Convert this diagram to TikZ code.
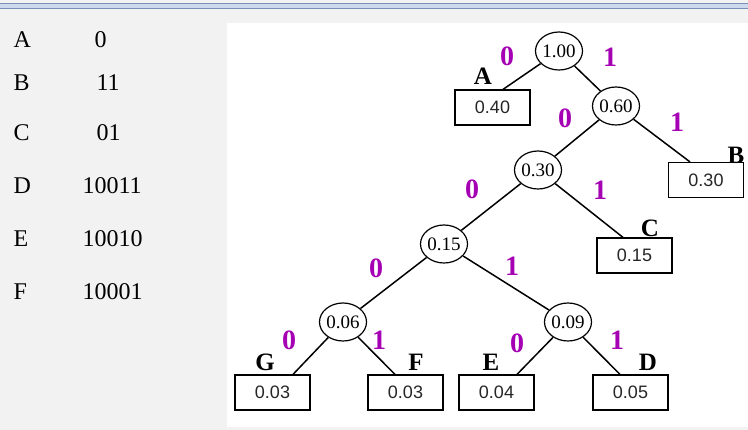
\documentclass[tikz,border=0pt]{standalone}
\usepackage{fontspec}
\setmainfont{Liberation Serif}
\newfontfamily\boxfont{Liberation Sans}
\usetikzlibrary{shapes.geometric}
\definecolor{bgray}{RGB}{242,242,242}
\definecolor{topblue}{RGB}{120,145,185}
\definecolor{topband}{RGB}{205,218,238}
\definecolor{bitpurple}{RGB}{165,0,180}
\tikzset{
  circnode/.style={draw, ellipse, line width=1.2pt, minimum width=46pt, minimum height=38pt, inner sep=0pt,
    font=\fontsize{19}{19}\selectfont},
  leafbox/.style={draw, rectangle, line width=1.2pt, minimum width=75pt, minimum height=35pt, inner sep=0pt,
    font=\boxfont\fontsize{18}{18}\selectfont, text=black!85},
  leaflabel/.style={font=\bfseries\fontsize{25}{25}\selectfont},
  bit/.style={font=\bfseries\fontsize{28}{28}\selectfont, text=bitpurple},
  tabtext/.style={font=\fontsize{24}{24}\selectfont, anchor=west},
  edge/.style={line width=1.5pt}
}
\begin{document}
\begin{tikzpicture}[x=1pt,y=-1pt]
\useasboundingbox (0,0) rectangle (748,430);
\fill[bgray] (0,0) rectangle (748,430);
\fill[topband] (0,3) rectangle (748,9);
\draw[topblue, line width=1.2pt] (0,3.5) -- (748,3.5);
\draw[topblue, line width=1.2pt] (0,8.5) -- (748,8.5);
\fill[white] (227,23) rectangle (748,427);

% table
\node[tabtext] (tA) at (10,40) {A};
\node[tabtext] (tB) at (10,83) {B};
\node[tabtext] (tC) at (10,133) {C};
\node[tabtext] (tD) at (10,186) {D};
\node[tabtext] (tE) at (10,239) {E};
\node[tabtext] (tF) at (10,292) {F};
\node[tabtext] (cA) at (91,40) {0};
\node[tabtext] (cB) at (93,83) {11};
\node[tabtext] (cC) at (93,133) {01};
\node[tabtext] (cD) at (79,186) {10011};
\node[tabtext] (cE) at (79,239) {10010};
\node[tabtext] (cF) at (79,292) {10001};

% internal nodes
\node[circnode] (n100) at (559,51) {1.00};
\node[circnode] (n060) at (616,106) {0.60};
\node[circnode] (n030) at (538,170) {0.30};
\node[circnode] (n015) at (444,244) {0.15};
\node[circnode] (n006) at (343,322) {0.06};
\node[circnode] (n009) at (568,322) {0.09};

% leaves
\node[leafbox] (bA) at (492.5,107.5) {0.40};
\node[leafbox] (bB) at (706,180) {0.30};
\node[leafbox] (bC) at (634.5,255.5) {0.15};
\node[leafbox] (bG) at (272.5,392.5) {0.03};
\node[leafbox] (bF) at (405.5,392.5) {0.03};
\node[leafbox] (bE) at (496.5,392.5) {0.04};
\node[leafbox] (bD) at (630.5,392.5) {0.05};

% leaf labels
\node[leaflabel] (lA) at (483,76) {A};
\node[leaflabel] (lB) at (736,155) {B};
\node[leaflabel] (lC) at (650,228) {C};
\node[leaflabel] (lG) at (265,362) {G};
\node[leaflabel] (lF) at (416,362) {F};
\node[leaflabel] (lE) at (491,362) {E};
\node[leaflabel] (lD) at (648,362) {D};

% edges
\coordinate (eA) at ([xshift=10.5pt]bA.north);
\coordinate (eB) at ([xshift=-16pt]bB.north);
\coordinate (eC) at ([xshift=-11.5pt]bC.north);
\coordinate (eG) at ([xshift=20.5pt]bG.north);
\coordinate (eF) at ([xshift=-10.5pt]bF.north);
\coordinate (eE) at ([xshift=20.5pt]bE.north);
\coordinate (eD) at ([xshift=-10.5pt]bD.north);
\draw[edge] (n100) -- (eA);
\draw[edge] (n100) -- (n060);
\draw[edge] (n060) -- (n030);
\draw[edge] (n060) -- (eB);
\draw[edge] (n030) -- (n015);
\draw[edge] (n030) -- (eC);
\draw[edge] (n015) -- (n006);
\draw[edge] (n015) -- (n009);
\draw[edge] (n006) -- (eG);
\draw[edge] (n006) -- (eF);
\draw[edge] (n009) -- (eE);
\draw[edge] (n009) -- (eD);

% bits
\node[bit] (b1) at (507,56) {0};
\node[bit] (b2) at (610,57) {1};
\node[bit] (b3) at (565,118) {0};
\node[bit] (b4) at (677,122) {1};
\node[bit] (b5) at (472,189) {0};
\node[bit] (b6) at (600,190) {1};
\node[bit] (b7) at (376,268) {0};
\node[bit] (b8) at (512,266) {1};
\node[bit] (b9) at (289,340) {0};
\node[bit] (b10) at (379,340) {1};
\node[bit] (b11) at (517,343) {0};
\node[bit] (b12) at (617,340) {1};
\end{tikzpicture}
\end{document}
